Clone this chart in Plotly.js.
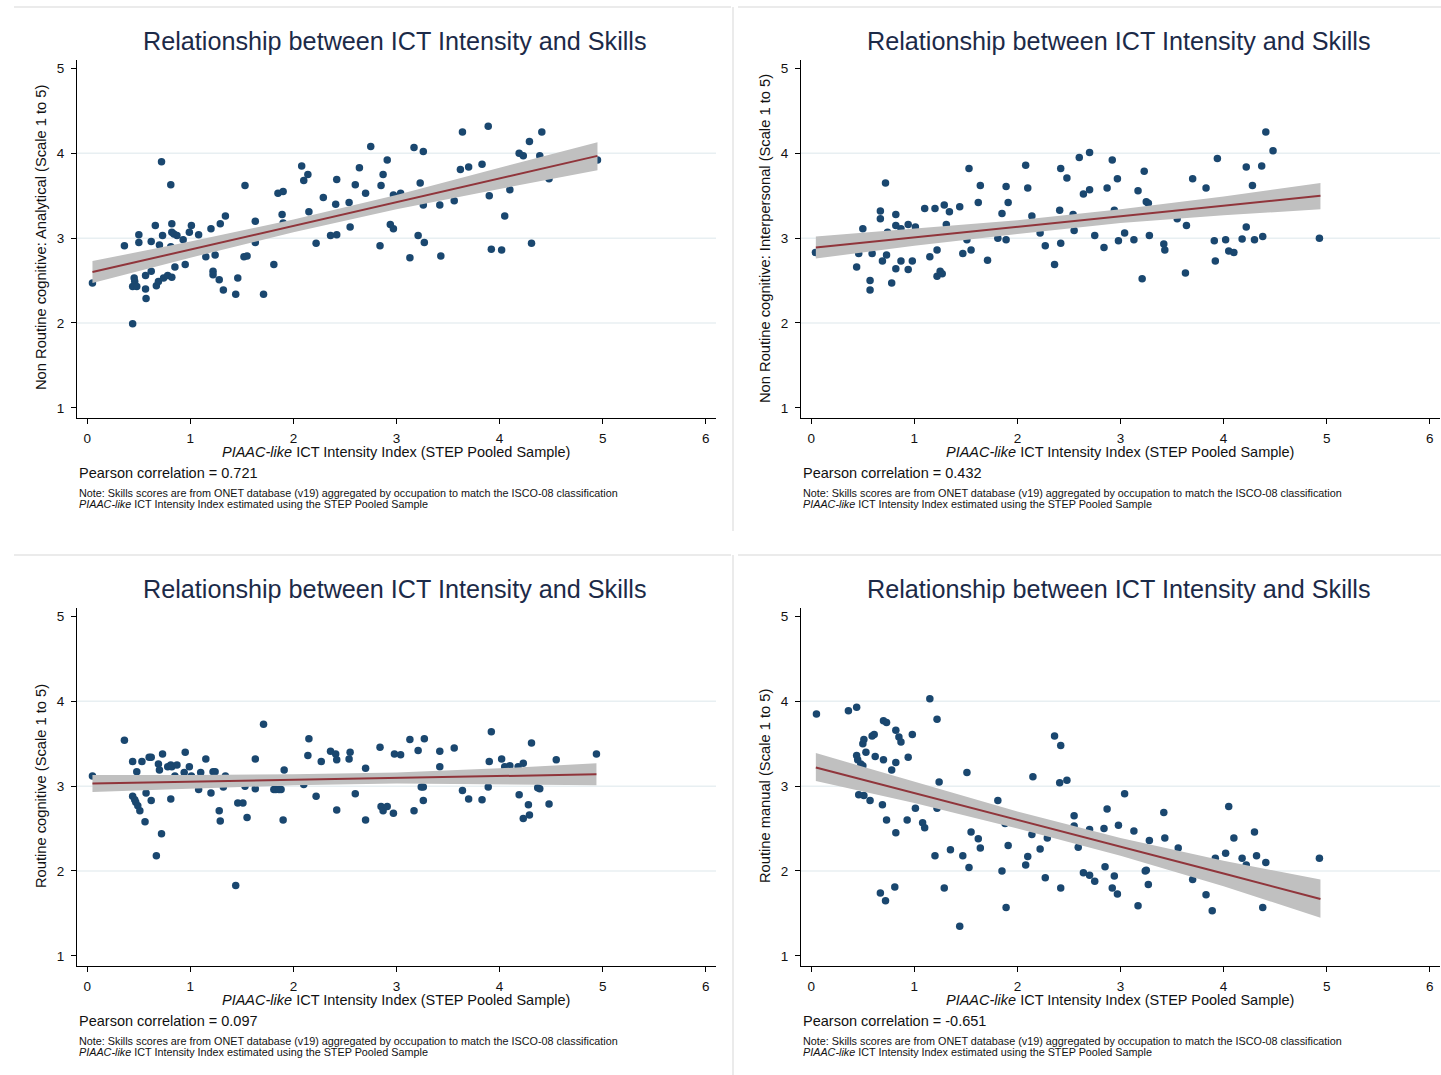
<!DOCTYPE html>
<html>
<head>
<meta charset="utf-8">
<script src="https://cdn.plot.ly/plotly-3.0.1.min.js"></script>
<style>
html,body{margin:0;padding:0;background:#fff;}
#chart{width:1441px;height:1075px;}
</style>
</head>
<body>
<div id="chart"></div>
<script>
// ---------------- DATA ----------------
const chartTitle = "Relationship between ICT Intensity and Skills";
const xTitleItalic = "PIAAC-like";
const xTitleRest = " ICT Intensity Index (STEP Pooled Sample)";
const yTitles = [
  "Non Routine cognitive: Analytical (Scale 1 to 5)",
  "Non Routine cognitive: Interpersonal (Scale 1 to 5)",
  "Routine cognitive (Scale 1 to 5)",
  "Routine manual (Scale 1 to 5)"
];
const pearson = ["0.721", "0.432", "0.097", "-0.651"];
const noteLine1 = "Note: Skills scores are from ONET database (v19) aggregated by occupation to match the ISCO-08 classification";
const noteLine2Rest = " ICT Intensity Index estimated using the STEP Pooled Sample";
const xTicks = [0, 1, 2, 3, 4, 5, 6];
const yTicks = [1, 2, 3, 4, 5];

// Panel 1: Non routine cognitive analytical
const p1x = [0.05,0.36,0.44,0.44,0.46,0.48,0.455,0.50,0.50,0.565,0.565,0.57,0.62,0.62,0.66,0.67,0.69,0.70,0.72,0.73,0.74,0.78,0.81,0.82,0.82,0.82,0.81,0.84,0.85,0.87,0.93,0.95,0.99,1.01,1.08,1.15,1.20,1.22,1.22,1.24,1.28,1.29,1.32,1.34,1.44,1.46,1.52,1.53,1.55,1.63,1.63,1.71,1.81,1.85,1.90,1.89,1.90,2.08,2.10,2.14,2.15,2.22,2.29,2.36,2.41,2.42,2.42,2.54,2.55,2.60,2.64,2.70,2.75,2.84,2.85,2.87,2.91,2.94,2.97,2.97,3.04,3.13,3.17,3.21,3.23,3.26,3.26,3.27,3.42,3.43,3.56,3.62,3.64,3.70,3.83,3.89,3.90,3.92,4.02,4.05,4.10,4.19,4.23,4.29,4.31,4.39,4.41,4.48,4.95];
const p1y = [2.47,2.91,1.99,2.43,2.49,2.43,2.53,3.04,2.95,2.56,2.40,2.29,2.61,2.96,3.15,2.44,2.49,2.92,3.90,3.03,2.53,2.56,3.63,3.17,3.07,2.54,2.90,3.05,2.66,3.03,2.98,2.69,3.07,3.15,3.04,2.78,3.11,2.61,2.57,2.80,2.51,3.17,2.39,3.26,2.34,2.53,2.78,3.62,2.79,3.20,2.95,2.34,2.69,3.53,3.55,3.28,3.18,3.85,3.68,3.75,3.31,2.94,3.48,3.03,3.40,3.04,3.69,3.42,3.13,3.63,3.83,3.53,4.08,2.91,3.62,3.75,3.92,3.16,3.11,3.51,3.53,2.77,4.07,3.03,3.65,4.02,3.39,2.95,3.39,2.79,3.44,3.81,4.25,3.84,3.87,4.32,3.50,2.87,2.86,3.26,3.57,4.00,3.97,4.14,2.94,3.97,4.25,3.70,3.92];
const fit1x = [0.05,1,2,3,4,4.95];
const fit1y = [2.60,2.866,3.145,3.425,3.704,3.97];
const ci1lo = [2.47,2.77,3.07,3.34,3.58,3.80];
const ci1hi = [2.73,2.96,3.22,3.51,3.83,4.13];

// Panel 2: Non routine cognitive interpersonal
const p2x = [0.04,0.44,0.46,0.50,0.57,0.57,0.59,0.67,0.67,0.69,0.72,0.73,0.74,0.78,0.82,0.82,0.82,0.87,0.87,0.94,0.94,0.98,1.01,1.10,1.15,1.20,1.22,1.22,1.25,1.27,1.29,1.31,1.34,1.44,1.47,1.51,1.53,1.55,1.62,1.64,1.71,1.81,1.85,1.89,1.89,1.91,2.08,2.10,2.14,2.22,2.27,2.36,2.41,2.42,2.42,2.48,2.54,2.55,2.60,2.64,2.70,2.70,2.75,2.84,2.87,2.92,2.94,2.97,2.98,3.04,3.13,3.17,3.21,3.23,3.25,3.27,3.28,3.42,3.43,3.55,3.63,3.64,3.70,3.83,3.91,3.92,3.94,4.02,4.05,4.10,4.18,4.22,4.22,4.28,4.30,4.37,4.38,4.41,4.48,4.93];
const p2y = [2.83,2.66,2.82,3.11,2.50,2.39,2.82,3.32,3.23,2.73,3.65,2.80,3.07,2.47,3.28,3.15,2.64,3.11,2.73,3.16,2.63,2.73,3.13,3.35,2.78,3.35,2.86,2.55,2.61,2.58,3.39,3.16,3.31,3.37,2.82,2.98,3.82,2.86,3.42,3.62,2.74,3.00,3.29,2.98,3.61,3.42,3.86,3.59,3.26,3.06,2.91,2.69,3.33,3.82,2.94,3.71,3.28,3.09,3.95,3.52,4.01,3.57,3.03,2.89,3.59,3.92,3.33,3.70,2.97,3.06,2.98,3.56,2.52,3.79,3.43,3.41,3.03,2.93,2.86,3.23,2.59,3.15,3.70,3.59,2.97,2.73,3.94,2.98,2.85,2.83,2.99,3.13,3.84,3.62,2.98,3.85,3.02,4.25,4.03,3.00];
const fit2x = [0.044,1,2,3,4,4.94];
const fit2y = [2.89,3.01,3.13,3.26,3.38,3.50];
const ci2lo = [2.76,2.91,3.05,3.18,3.27,3.34];
const ci2hi = [3.02,3.11,3.21,3.34,3.49,3.65];

// Panel 3: Routine cognitive
const p3x = [0.05,0.36,0.44,0.44,0.46,0.47,0.48,0.49,0.51,0.53,0.56,0.57,0.60,0.62,0.62,0.67,0.69,0.70,0.72,0.73,0.78,0.81,0.82,0.81,0.85,0.87,0.94,0.95,0.99,1.01,1.08,1.10,1.15,1.20,1.22,1.24,1.28,1.29,1.32,1.34,1.44,1.46,1.51,1.53,1.55,1.63,1.63,1.71,1.81,1.83,1.86,1.88,1.90,1.91,2.10,2.14,2.15,2.22,2.27,2.36,2.41,2.42,2.42,2.54,2.55,2.60,2.70,2.70,2.84,2.85,2.87,2.91,2.97,2.98,3.04,3.13,3.17,3.21,3.24,3.26,3.26,3.27,3.42,3.42,3.56,3.64,3.70,3.83,3.89,3.90,3.92,4.02,4.05,4.10,4.18,4.19,4.23,4.23,4.28,4.29,4.31,4.37,4.39,4.48,4.55,4.94];
const p3y = [3.12,3.54,3.29,2.88,2.84,2.81,3.17,2.77,2.71,3.29,2.58,2.92,3.34,3.34,2.83,2.18,3.26,3.19,2.44,3.38,3.23,3.25,3.23,2.85,3.12,3.25,3.16,3.40,3.23,3.12,2.96,3.16,3.32,2.92,3.17,3.17,2.71,2.59,2.99,3.12,1.83,2.80,2.80,3.00,2.63,3.32,2.97,3.73,2.96,2.96,2.96,2.96,2.60,3.19,3.02,3.36,3.56,2.88,3.29,3.41,3.38,3.31,2.72,3.32,3.40,2.91,3.21,2.60,3.46,2.76,2.71,2.76,2.68,3.38,3.37,3.55,2.71,3.42,2.99,2.99,2.83,3.56,3.41,3.23,3.45,2.95,2.85,2.84,2.99,3.29,3.64,3.32,3.23,3.24,3.23,2.90,3.27,2.62,2.78,2.66,3.51,2.98,2.97,2.79,3.31,3.38];
const fit3x = [0.05,1,2,3,4,4.94];
const fit3y = [3.03,3.05,3.074,3.096,3.118,3.14];
const ci3lo = [2.93,2.97,3.01,3.03,3.02,3.01];
const ci3hi = [3.13,3.13,3.14,3.16,3.21,3.27];

// Panel 4: Routine manual
const p4x = [0.05,0.36,0.44,0.44,0.45,0.46,0.48,0.50,0.50,0.51,0.51,0.53,0.57,0.59,0.61,0.62,0.67,0.69,0.70,0.70,0.72,0.73,0.73,0.78,0.82,0.82,0.82,0.81,0.85,0.87,0.93,0.94,0.98,1.01,1.08,1.10,1.15,1.20,1.22,1.22,1.24,1.29,1.35,1.44,1.47,1.51,1.53,1.55,1.62,1.64,1.81,1.85,1.88,1.89,1.91,2.08,2.10,2.14,2.15,2.22,2.27,2.29,2.36,2.41,2.42,2.42,2.48,2.55,2.55,2.59,2.64,2.70,2.70,2.75,2.84,2.85,2.87,2.92,2.94,2.97,2.98,3.04,3.13,3.17,3.24,3.25,3.27,3.28,3.42,3.43,3.56,3.70,3.83,3.89,3.92,4.02,4.05,4.10,4.18,4.22,4.30,4.32,4.38,4.41,4.93];
const p4y = [3.85,3.89,3.93,3.36,3.31,2.90,3.26,3.24,3.50,3.55,2.89,3.40,2.83,3.59,3.61,3.35,1.74,2.78,3.31,3.77,1.65,3.75,2.60,3.19,3.66,3.28,2.45,1.81,3.58,3.52,2.60,3.34,3.61,2.74,2.57,2.51,4.03,2.18,3.79,2.74,3.05,1.80,2.25,1.35,2.18,3.16,2.04,2.46,2.38,2.27,2.83,2.00,2.56,1.57,2.30,2.07,2.17,2.43,3.11,2.26,1.92,2.39,3.59,3.04,3.48,1.80,3.07,2.65,2.53,2.28,1.98,1.95,2.49,1.88,2.50,2.05,2.73,1.80,1.94,1.73,2.54,2.91,2.47,1.59,2.00,2.01,1.84,2.36,2.69,2.39,2.27,1.90,1.72,1.53,2.15,2.21,2.76,2.39,2.15,2.07,2.46,2.18,1.57,2.10,2.15];
const fit4x = [0.044,1,2,3,4,4.94];
const fit4y = [3.22,2.92,2.60,2.29,1.97,1.67];
const ci4lo = [3.06,2.80,2.50,2.18,1.82,1.45];
const ci4hi = [3.39,3.05,2.70,2.39,2.12,1.90];

// ---------------- BUILD ----------------
const W = 1441, H = 1075;
const px = v => v / W;
const py = v => 1 - v / H;
const FONT = "Liberation Sans, Arial, sans-serif";
const markerColor = "#1a476f";
const lineColor = "#90353b";
const bandColor = "#c0c0c0";
const gridColor = "#e8eff2";

const panels = [
  {x: p1x, y: p1y, fx: fit1x, fy: fit1y, lo: ci1lo, hi: ci1hi, dx: 0, dy: 0},
  {x: p2x, y: p2y, fx: fit2x, fy: fit2y, lo: ci2lo, hi: ci2hi, dx: 724, dy: 0},
  {x: p3x, y: p3y, fx: fit3x, fy: fit3y, lo: ci3lo, hi: ci3hi, dx: 0, dy: 548},
  {x: p4x, y: p4y, fx: fit4x, fy: fit4y, lo: ci4lo, hi: ci4hi, dx: 724, dy: 548}
];

const traces = [];
const layout = {
  width: W, height: H,
  margin: {l: 0, r: 0, t: 0, b: 0},
  paper_bgcolor: "#fff", plot_bgcolor: "#fff",
  showlegend: false,
  font: {family: FONT, color: "#000"},
  annotations: [], shapes: []
};

panels.forEach((p, i) => {
  const n = i + 1;
  const xa = n === 1 ? "x" : "x" + n;
  const ya = n === 1 ? "y" : "y" + n;
  const xk = n === 1 ? "xaxis" : "xaxis" + n;
  const yk = n === 1 ? "yaxis" : "yaxis" + n;

  traces.push({type: "scatter", mode: "markers", x: p.x, y: p.y, xaxis: xa, yaxis: ya,
    marker: {color: markerColor, size: 7.5, line: {width: 0}}, hoverinfo: "skip"});
  traces.push({type: "scatter", mode: "lines", x: p.fx, y: p.lo, xaxis: xa, yaxis: ya,
    line: {width: 0, color: bandColor}, hoverinfo: "skip"});
  traces.push({type: "scatter", mode: "lines", x: p.fx, y: p.hi, xaxis: xa, yaxis: ya,
    line: {width: 0, color: bandColor}, fill: "tonexty", fillcolor: bandColor, hoverinfo: "skip"});
  traces.push({type: "scatter", mode: "lines", x: p.fx, y: p.fy, xaxis: xa, yaxis: ya,
    line: {width: 2, color: lineColor}, hoverinfo: "skip"});

  layout[xk] = {
    domain: [px(77 + p.dx), px(716 + p.dx)], anchor: ya,
    range: [-0.10, 6.10], tickvals: xTicks, ticktext: xTicks.map(String),
    showgrid: false, zeroline: false, showline: true, linecolor: "#000", linewidth: 1,
    ticks: "outside", ticklen: 5, tickcolor: "#000", tickwidth: 1, ticklabelstandoff: 3,
    tickfont: {family: FONT, size: 13.5, color: "#111"}, fixedrange: true
  };
  layout[yk] = {
    domain: [py(418 + p.dy), py(60 + p.dy)], anchor: xa,
    range: [0.88, 5.10], tickvals: yTicks, ticktext: yTicks.map(String),
    showgrid: false, zeroline: false, showline: true, linecolor: "#000", linewidth: 1,
    ticks: "outside", ticklen: 5, tickcolor: "#000", tickwidth: 1, ticklabelstandoff: 4,
    tickfont: {family: FONT, size: 13.5, color: "#111"}, fixedrange: true
  };

  [2, 3, 4].forEach(g => {
    layout.shapes.push({type: "line", xref: xa, yref: ya, x0: -0.10, x1: 6.10, y0: g, y1: g,
      line: {color: gridColor, width: 1.5}, layer: "below"});
  });

  const A = layout.annotations;
  A.push({xref: "paper", yref: "paper", x: px(395 + p.dx), y: py(41 + p.dy), xanchor: "center", yanchor: "middle",
    text: chartTitle, showarrow: false, font: {family: FONT, size: 25.2, color: "#1c2a48"}});
  A.push({xref: "paper", yref: "paper", x: px(41 + p.dx), y: py(238 + p.dy), xanchor: "center", yanchor: "middle",
    text: yTitles[i], textangle: -90, showarrow: false, font: {family: FONT, size: 14.7, color: "#111"}});
  A.push({xref: "paper", yref: "paper", x: px(395.5 + p.dx), y: py(452 + p.dy), xanchor: "center", yanchor: "middle",
    text: "<i>" + xTitleItalic + "</i>" + xTitleRest, showarrow: false, font: {family: FONT, size: 14.5, color: "#111"}});
  A.push({xref: "paper", yref: "paper", x: px(77 + p.dx), y: py(473 + p.dy), xanchor: "left", yanchor: "middle",
    text: "Pearson correlation = " + pearson[i], showarrow: false, font: {family: FONT, size: 14.5, color: "#111"}});
  A.push({xref: "paper", yref: "paper", x: px(77 + p.dx), y: py(493 + p.dy), xanchor: "left", yanchor: "middle",
    text: noteLine1, showarrow: false, font: {family: FONT, size: 10.8, color: "#111"}});
  A.push({xref: "paper", yref: "paper", x: px(77 + p.dx), y: py(504 + p.dy), xanchor: "left", yanchor: "middle",
    text: "<i>" + xTitleItalic + "</i>" + noteLine2Rest, showarrow: false, font: {family: FONT, size: 10.8, color: "#111"}});
});

// panel borders
const borderColor = "#e4e4e4";
[[14, 731, 7], [738, 1441, 7], [14, 731, 555], [738, 1441, 555]].forEach(b => {
  layout.shapes.push({type: "line", xref: "paper", yref: "paper", x0: px(b[0]), x1: px(b[1]), y0: py(b[2]), y1: py(b[2]),
    line: {color: borderColor, width: 1.5}});
});
[[7, 531], [555, 1075]].forEach(b => {
  layout.shapes.push({type: "line", xref: "paper", yref: "paper", x0: px(733), x1: px(733), y0: py(b[0]), y1: py(b[1]),
    line: {color: borderColor, width: 1.5}});
});

Plotly.newPlot("chart", traces, layout, {displayModeBar: false, staticPlot: true});
</script>
</body>
</html>
